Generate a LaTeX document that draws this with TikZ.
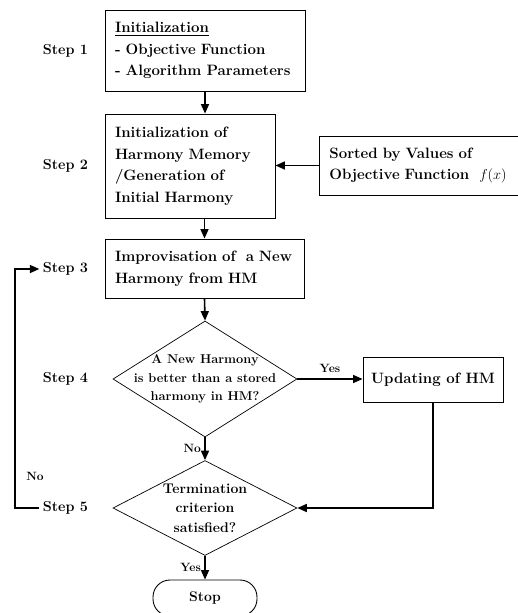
\documentclass[tikz,border=0pt]{standalone}
\usepackage{amsmath}
\usetikzlibrary{positioning,shapes,arrows.meta}

\begin{document}
\begin{tikzpicture}[x=1pt,y=-1pt,
    box/.style={draw,line width=.9pt,inner xsep=10pt,inner ysep=0pt,align=left,font=\fontsize{15}{21.5}\selectfont\bfseries},
    decision/.style={draw,diamond,line width=.7pt,inner sep=0pt},
    dtext/.style={align=center,font=\fontsize{12.8}{18.5}\selectfont\bfseries},
    steplabel/.style={font=\fontsize{14.4}{17}\selectfont\bfseries},
    small/.style={font=\fontsize{12}{14}\selectfont\bfseries},
    flow/.style={line width=1.6pt,-{Triangle[length=9.5pt,width=8pt]}}]
    \useasboundingbox (0,0) rectangle (517,613);

    \node[box,text width=180pt,minimum height=81pt] (init) at (205,50.5) {\underline{Initialization}\\- Objective Function\\- Algorithm Parameters};
    \node[box,text width=150pt,minimum height=104pt] (hm) at (190,166) {Initialization of\\Harmony Memory\\/Generation of\\Initial Harmony};
    \node[box,anchor=west,text width=190pt,minimum height=59pt] (sort) at (319,165.5) {Sorted by Values of\\Objective Function \ $f(x)$};
    \node[box,text width=179pt,minimum height=59pt] (impro) at (204.5,268.5) {Improvisation of\ \ a New\\Harmony from HM};
    \node[box,inner xsep=4pt,align=center,minimum width=140pt,minimum height=45pt] (upd) at (433,379.5) {Updating of HM};

    \node[decision,minimum width=184pt,minimum height=116pt] (better) at (205,379) {};
    \node[dtext] (bettertext) at (better) {A New Harmony\\is better than a stored\\harmony in HM?};
    \node[decision,minimum width=184pt,minimum height=95pt] (term) at (205,508) {};
    \node[dtext,font=\fontsize{14}{19.5}\selectfont\bfseries] (termtext) at (term) {Termination\\criterion\\satisfied?};
    \node[draw,line width=.9pt,rounded corners=17pt,minimum width=104pt,minimum height=36pt,font=\fontsize{14}{16}\selectfont\bfseries] (stop) at (205,598) {Stop};

    \foreach \n/\y in {1/51,2/166,3/269,4/379,5/508}
      \node[steplabel] (step\n) at (65.5,\y) {Step \n};

    \draw[flow] (init.south) -- (init.south |- hm.north);
    \draw[flow] (sort.west) -- (sort.west -| hm.east);
    \draw[flow] (impro.north |- hm.south) -- (impro.north);
    \draw[flow] (impro.south) -- (better.north);
    \draw[flow] (better.east) -- node[small,above=2pt]{Yes} (better.east -| upd.west);
    \draw[flow] (upd.south) |- (term.east);
    \draw[flow] (better.south) -- node[small,left]{No} (term.north);
    \draw[flow] (term.south) -- node[small,left]{Yes} (stop.north);

    % back to step 3
    \coordinate (back) at (15,0);
    \draw[flow] (step5.west) -- (step5.west -| back) |- (step3.west);
    \node[small] (retry) at (35,476) {No};
  \end{tikzpicture}
\end{document}
